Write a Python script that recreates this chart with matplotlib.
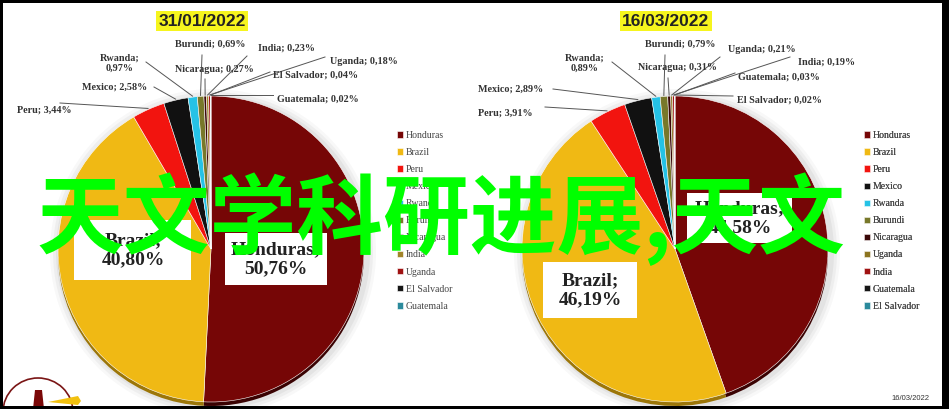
import numpy as np
import matplotlib.pyplot as plt
from matplotlib.patches import Rectangle, Arc, Polygon

W, H = 949, 409

# chart values (percent)
countries_1 = ["Honduras", "Brazil", "Peru", "Mexico", "Rwanda", "Burundi",
               "Nicaragua", "India", "Uganda", "El Salvador", "Guatemala"]
values_1 = [50.76, 40.80, 3.44, 2.58, 0.97, 0.69, 0.27, 0.23, 0.18, 0.04, 0.02]
labels_1 = ["Honduras;\n50,76%", "Brazil;\n40,80%", "Peru; 3,44%", "Mexico; 2,58%",
            "Rwanda;\n0,97%", "Burundi; 0,69%", "Nicaragua; 0,27%", "India; 0,23%",
            "Uganda; 0,18%", "El Salvador; 0,04%", "Guatemala; 0,02%"]

countries_2 = ["Honduras", "Brazil", "Peru", "Mexico", "Rwanda", "Burundi",
               "Nicaragua", "Uganda", "India", "Guatemala", "El Salvador"]
values_2 = [44.58, 46.19, 3.91, 2.89, 0.89, 0.79, 0.31, 0.21, 0.19, 0.03, 0.02]
labels_2 = ["Honduras;\n44,58%", "Brazil;\n46,19%", "Peru; 3,91%", "Mexico; 2,89%",
            "Rwanda;\n0,89%", "Burundi; 0,79%", "Nicaragua; 0,31%", "Uganda; 0,21%",
            "India; 0,19%", "Guatemala; 0,03%", "El Salvador; 0,02%"]

titles = ["31/01/2022", "16/03/2022"]
overlay = "天文学科研进展,天文"

colors_1 = ["#760606", "#f0b914", "#f2140f", "#111111", "#25c2e6", "#78782a",
            "#3a0808", "#a2842a", "#a01212", "#161616", "#2b8a9c"]
colors_2 = ["#760606", "#f0b914", "#f2140f", "#111111", "#25c2e6", "#78782a",
            "#3a0808", "#8c7420", "#a01212", "#161616", "#2b8a9c"]

SERIF = "Liberation Serif"


def Y(y):
    # pixel rows from the top -> data y
    return H - y


fig = plt.figure(figsize=(W / 100, H / 100), dpi=100)
ax = fig.add_axes([0, 0, 1, 1])


def draw_pie(values, colors, cx, cy, r):
    # soft shadow + dark rim under the pie
    for k, a in [(10, 0.05), (7, 0.07), (4, 0.09)]:
        ax.add_patch(plt.Circle((cx + 2, Y(cy) - 3), r + k, color="#777777",
                                alpha=a, lw=0, zorder=1))
    dark = ["#3a0202" if c == "#760606" else "#9c7608" if c == "#f0b914" else c
            for c in colors]
    ax.pie(values, colors=dark, startangle=90, counterclock=False,
           center=(cx, Y(cy) - 4), radius=r, frame=True,
           wedgeprops=dict(lw=0, zorder=2))
    wedges, _ = ax.pie(values, colors=colors, startangle=90, counterclock=False,
                       center=(cx, Y(cy)), radius=r, frame=True,
                       wedgeprops=dict(edgecolor="white", lw=0.4, zorder=3))
    for w in wedges:
        w.set_zorder(3)
    return wedges


def mid_point(w, cx, cy, r, extra=2):
    th = np.deg2rad((w.theta1 + w.theta2) / 2)
    return cx + (r + extra) * np.cos(th), Y(cy) + (r + extra) * np.sin(th)


# pie 1
cx1, cy1, r1 = 211, 249, 153
w1 = draw_pie(values_1, colors_1, cx1, cy1, r1)
# pie 2
cx2, cy2, r2 = 675, 249, 153
w2 = draw_pie(values_2, colors_2, cx2, cy2, r2)

# small-slice labels: (text x, text y, ha, line start x, line start y)
small_1 = {
    2: (17, 110, "left", 60, 103),
    3: (82, 87, "left", 154, 87),
    4: (120, 63, "center", 146, 62),
    5: (210, 44, "center", 202, 55),
    6: (214, 69, "center", 205, 79),
    7: (258, 48, "left", 247, 56),
    8: (330, 61, "left", 325, 57),
    9: (273, 75, "left", 270, 72),
    10: (277, 99, "left", 273, 95),
}
small_2 = {
    2: (478, 113, "left", 545, 107),
    3: (478, 89, "left", 553, 89),
    4: (585, 63, "center", 612, 62),
    5: (680, 44, "center", 665, 55),
    6: (678, 68, "center", 668, 78),
    7: (728, 50, "left", 720, 57),
    8: (798, 62, "left", 790, 57),
    9: (738, 77, "left", 735, 73),
    10: (737, 100, "left", 733, 96),
}

for wedges, labels, small, cx, cy, r in [(w1, labels_1, small_1, cx1, cy1, r1),
                                         (w2, labels_2, small_2, cx2, cy2, r2)]:
    for i, (tx, ty, ha, lx, ly) in small.items():
        ax.text(tx, Y(ty), labels[i], ha=ha, va="center", fontsize=7.3,
                family=SERIF, weight="bold", color="#333333", linespacing=1.1,
                zorder=6)
        ex, ey = mid_point(wedges[i], cx, cy, r, extra=1)
        ax.plot([lx, ex], [Y(ly), ey], color="#555555", lw=0.7, zorder=5)

# big slice label boxes: (centre x, centre y, width, height)
big_boxes = [
    (labels_1[1], 133, 250, 117, 60),
    (labels_1[0], 276, 259, 102, 52),
    (labels_2[0], 740, 218, 105, 50),
    (labels_2[1], 590, 290, 94, 56),
]
for txt, bx, by, bw, bh in big_boxes:
    ax.add_patch(Rectangle((bx - bw / 2, Y(by) - bh / 2), bw, bh, fc="white",
                           ec="none", zorder=6))
    ax.text(bx, Y(by), txt, ha="center", va="center", fontsize=14,
            family=SERIF, weight="bold", color="#222222", linespacing=1.15,
            zorder=7)

# titles with yellow highlight
for t, tx in zip(titles, [202, 666]):
    ax.text(tx, Y(21), t, ha="center", va="center", fontsize=12.5,
            family="Liberation Sans", weight="bold", color="#222222",
            bbox=dict(boxstyle="square,pad=0.15", fc="#f6f51e", ec="none"),
            zorder=7)

# legends
for wedges, names, lx in [(w1, countries_1, 397), (w2, countries_2, 864)]:
    leg = ax.legend(wedges, names, loc="upper left",
                    bbox_to_anchor=(lx, Y(131)), bbox_transform=ax.transData,
                    frameon=False, prop=dict(family=SERIF, size=7),
                    handlelength=0.65, handleheight=0.65, handletextpad=0.25,
                    labelspacing=0.83, borderpad=0, borderaxespad=0)
    for t in leg.get_texts():
        t.set_color("#444444")
    ax.add_artist(leg)

# small date, bottom right
ax.text(929, Y(398), "16/03/2022", ha="right", va="center", fontsize=5.5,
        family="Liberation Sans", color="#333333", zorder=7)

# logo fragment, bottom left
ax.add_patch(Arc((38, Y(412)), 70, 68, theta1=0, theta2=180, color="#7a1515",
                 lw=1.2, zorder=7))
ax.add_patch(Polygon([(33, Y(409)), (35, Y(390)), (42, Y(390)), (44, Y(409))],
                     closed=True, fc="#7a0808", ec="none", zorder=7))
ax.add_patch(Polygon([(48, Y(402)), (78, Y(396)), (81, Y(401)), (78, Y(405))],
                     closed=True, fc="#f2c10f", ec="none", zorder=7))

# overlay text
ax.text(36, Y(219), overlay, ha="left", va="center", fontsize=62.5,
        family=["Noto Sans CJK SC", "DejaVu Sans"], weight="bold",
        color="#00ff00", zorder=10)

# black frame
for rx, ry, rw, rh in [(0, 0, W, 3), (0, 406, W, 3), (0, 0, 3, H), (942, 0, 7, H)]:
    ax.add_patch(Rectangle((rx, Y(ry + rh)), rw, rh, fc="black", ec="none",
                           zorder=11))

ax.set_xlim(0, W)
ax.set_ylim(0, H)
ax.set_aspect("auto")
ax.axis("off")

fig.savefig("out.png", dpi=100)
